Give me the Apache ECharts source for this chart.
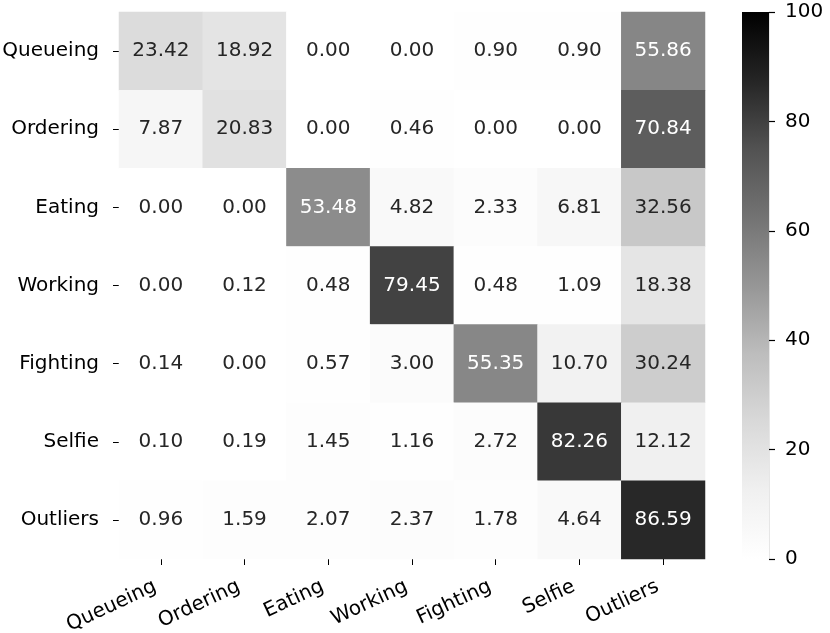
<!DOCTYPE html>
<html>
<head>
<meta charset="utf-8">
<script src="https://cdn.jsdelivr.net/npm/echarts@6/dist/echarts.min.js"></script>
<style>
html,body{margin:0;padding:0;background:#fff;}
#main{width:830px;height:633px;}
</style>
</head>
<body>
<div id="main"></div>
<script>
const xCategories = ['Queueing', 'Ordering', 'Eating', 'Working', 'Fighting', 'Selfie', 'Outliers'];
const yCategories = ['Queueing', 'Ordering', 'Eating', 'Working', 'Fighting', 'Selfie', 'Outliers'];
const rowQueueing = [23.42, 18.92, 0.00, 0.00, 0.90, 0.90, 55.86];
const rowOrdering = [7.87, 20.83, 0.00, 0.46, 0.00, 0.00, 70.84];
const rowEating   = [0.00, 0.00, 53.48, 4.82, 2.33, 6.81, 32.56];
const rowWorking  = [0.00, 0.12, 0.48, 79.45, 0.48, 1.09, 18.38];
const rowFighting = [0.14, 0.00, 0.57, 3.00, 55.35, 10.70, 30.24];
const rowSelfie   = [0.10, 0.19, 1.45, 1.16, 2.72, 82.26, 12.12];
const rowOutliers = [0.96, 1.59, 2.07, 2.37, 1.78, 4.64, 86.59];
const colorbarTicks = [0, 20, 40, 60, 80, 100];

const rows = [rowQueueing, rowOrdering, rowEating, rowWorking, rowFighting, rowSelfie, rowOutliers];
const greys = ['#ffffff', '#f0f0f0', '#d9d9d9', '#bdbdbd', '#969696', '#737373', '#525252', '#252525', '#000000'];
const cbMin = colorbarTicks[0];
const cbMax = colorbarTicks[colorbarTicks.length - 1];

const data = [];
rows.forEach((row, yi) => {
  row.forEach((v, xi) => {
    data.push({
      value: [xi, yi, v],
      label: { color: v > 43 ? '#ffffff' : '#262626' }
    });
  });
});

// colorbar gradient (bottom = min = white, top = max = black)
const cbGradient = new echarts.graphic.LinearGradient(0, 1, 0, 0,
  greys.map((c, i) => ({ offset: i / (greys.length - 1), color: c })));

const FONT = 'DejaVu Sans';
const chart = echarts.init(document.getElementById('main'), null, { renderer: 'canvas' });
chart.setOption({
  animation: false,
  backgroundColor: '#ffffff',
  textStyle: { fontFamily: FONT },
  grid: [
    { left: 119, top: 12, width: 586, height: 547, outerBoundsMode: 'none', containLabel: false },
    { left: 742, top: 12, width: 27, height: 547, outerBoundsMode: 'none', containLabel: false },
    { left: 742, top: 12, width: 27, height: 547, outerBoundsMode: 'none', containLabel: false }
  ],
  xAxis: [
    {
      type: 'category', gridIndex: 0, data: xCategories,
      axisLine: { show: false },
      axisTick: { show: true, alignWithLabel: true, length: 6, lineStyle: { color: '#000', width: 1 } },
      axisLabel: { rotate: 25, margin: 24, padding: [0, 6, 0, 0], fontSize: 20, color: '#000', fontFamily: FONT, interval: 0 },
      splitLine: { show: false }
    },
    {
      type: 'category', gridIndex: 1, show: false, data: ['colorbar'], boundaryGap: true
    },
    {
      type: 'value', gridIndex: 2, show: false, min: 0, max: 1
    }
  ],
  yAxis: [
    {
      type: 'category', gridIndex: 0, data: yCategories, inverse: true,
      axisLine: { show: false },
      axisTick: { show: true, alignWithLabel: true, length: 6, lineStyle: { color: '#000', width: 1 } },
      axisLabel: { margin: 20, fontSize: 20, color: '#000', fontFamily: FONT, interval: 0 },
      splitLine: { show: false }
    },
    {
      type: 'value', gridIndex: 1, show: false, min: cbMin, max: cbMax
    },
    {
      type: 'value', gridIndex: 2, position: 'right', min: cbMin, max: cbMax, interval: 20,
      z: 10,
      axisLine: { show: true, onZero: false, lineStyle: { color: '#e6e6e6', width: 1 } },
      axisTick: { show: true, inside: false, length: 6, lineStyle: { color: '#000000', width: 1.2 } },
      axisLabel: { margin: 16, fontSize: 20, color: '#000', fontFamily: FONT },
      splitLine: { show: false }
    }
  ],
  visualMap: {
    type: 'continuous',
    show: false,
    min: cbMin, max: cbMax,
    seriesIndex: 0,
    inRange: { color: greys }
  },
  series: [
    {
      type: 'heatmap',
      xAxisIndex: 0, yAxisIndex: 0,
      data: data,
      label: { show: true, fontSize: 20, fontFamily: FONT, formatter: p => p.value[2].toFixed(2) },
      itemStyle: { borderWidth: 0 },
      emphasis: { disabled: true }
    },
    {
      type: 'bar',
      xAxisIndex: 1, yAxisIndex: 1,
      data: [cbMax],
      barWidth: '100%',
      itemStyle: { color: cbGradient, borderWidth: 0 },
      label: { show: false },
      emphasis: { disabled: true },
      silent: true,
      z: 1
    }
  ]
});
</script>
</body>
</html>
